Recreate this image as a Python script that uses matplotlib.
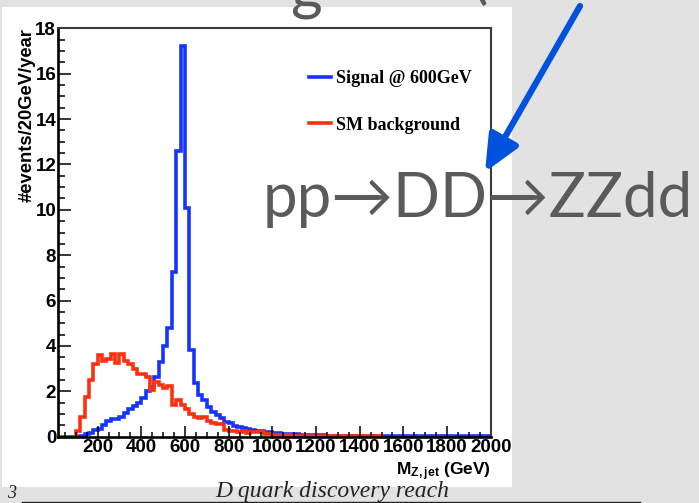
import numpy as np
import matplotlib
matplotlib.use("Agg")
import matplotlib.pyplot as plt
from matplotlib.ticker import MultipleLocator
from matplotlib.lines import Line2D
from matplotlib.patches import Rectangle

plt.rcParams['font.family'] = ['Liberation Sans', 'DejaVu Sans']
plt.rcParams['font.weight'] = 'bold'
plt.rcParams['axes.labelweight'] = 'bold'
plt.rcParams['mathtext.fontset'] = 'custom'
plt.rcParams['mathtext.bf'] = 'Liberation Sans:bold'
plt.rcParams['mathtext.rm'] = 'Liberation Sans:bold'

# 20 GeV bins
bin_width = 20
signal_start = 20
signal = [0, 0, 0, 0, 0,
          0.05, 0.1, 0.18, 0.28, 0.35, 0.5, 0.7, 0.78, 0.8, 0.88,
          1.05, 1.2, 1.35, 1.5, 1.7, 2.0, 2.2, 2.65, 3.3, 4.0,
          4.8, 7.27, 12.6, 17.2, 10.1, 3.82, 2.38, 1.84, 1.6, 1.3,
          1.1, 0.96, 0.81, 0.66, 0.59, 0.47, 0.41, 0.37, 0.32, 0.3,
          0.26, 0.24, 0.21, 0.19, 0.17, 0.15, 0.14, 0.12, 0.11, 0.1,
          0.09, 0.08, 0.08, 0.07, 0.06, 0.06, 0.05, 0.05, 0.05, 0.04,
          0.04, 0.04, 0.04, 0.04, 0.03, 0.03, 0.03, 0.03, 0.03, 0.03,
          0.03, 0.03, 0.02, 0.02, 0.02, 0.02, 0.02, 0.02, 0.02, 0.02,
          0.02, 0.02, 0.02, 0.02, 0.02, 0.02, 0.02, 0.02, 0.02, 0.02,
          0.02, 0.02, 0.02, 0.02]

bg_start = 100
background = [0.25, 0.85, 1.75, 2.5, 3.2, 3.6, 3.35, 3.42, 3.65, 3.25,
              3.65, 3.35, 3.2, 3.0, 2.78, 2.75, 2.65, 2.06, 2.42, 2.28,
              2.15, 2.25, 1.4, 1.6, 1.38, 1.2, 1.0, 0.88, 0.82, 0.88,
              0.7, 0.6, 0.58, 0.56, 0.28, 0.26, 0.25, 0.22, 0.24, 0.18,
              0.2, 0.2, 0.22, 0.12, 0.1, 0.08, 0.07, 0.06, 0.06, 0.05,
              0.04, 0.04, 0.04, 0.04, 0.04, 0.04, 0.04, 0.04, 0.04, 0.04,
              0.04, 0.04, 0.04, 0.04, 0.04, 0.04, 0.04, 0.04, 0.04, 0.04]

sig_label = "Signal @ 600GeV"
bg_label = "SM background"
blue = '#1535ff'
red = '#ff3010'

W, H = 699, 503
fig = plt.figure(figsize=(W / 100, H / 100), dpi=100)
fig.patch.set_facecolor('#e2e2e2')

# white slide panel behind the plot
fig.add_artist(Rectangle((2 / W, 1 - 487 / H), 510 / W, 480 / H,
                         transform=fig.transFigure, fc='white', ec='none', zorder=-5))

ax = fig.add_axes([58.3 / W, 1 - 436.7 / H, 432.4 / W, 408.4 / H])
ax.set_facecolor('none')

sig_edges = signal_start + bin_width * np.arange(len(signal) + 1)
bg_edges = bg_start + bin_width * np.arange(len(background) + 1)
ax.stairs(signal, sig_edges, color=blue, lw=2.6, baseline=0)
ax.stairs(background, bg_edges, color=red, lw=2.6, baseline=0)

ax.set_xlim(20, 2000)
ax.set_ylim(0, 18)
ax.xaxis.set_major_locator(MultipleLocator(200))
ax.xaxis.set_minor_locator(MultipleLocator(50))
ax.yaxis.set_major_locator(MultipleLocator(2))
ax.yaxis.set_minor_locator(MultipleLocator(0.5))
ax.tick_params(which='both', direction='in', width=1.1, labelsize=13.5, colors='black')
ax.tick_params(axis='x', which='major', length=8, pad=2)
ax.tick_params(axis='x', which='minor', length=3.8)
ax.tick_params(axis='y', which='major', length=9.4, pad=1.5)
ax.tick_params(axis='y', which='minor', length=4.8)

for s in ['left', 'bottom']:
    ax.spines[s].set_linewidth(1.9)
    ax.spines[s].set_color('black')
for s in ['top', 'right']:
    ax.spines[s].set_linewidth(1.5)
    ax.spines[s].set_color('#3a3a3a')

ax.set_ylabel('#events/20GeV/year', fontsize=13.2, loc='top', labelpad=0)
ax.set_xlabel(r'$\mathbf{M_{Z,jet}}$ (GeV)', fontsize=12.5, loc='right', labelpad=3)

handles = [Line2D([], [], color=blue, lw=2.6), Line2D([], [], color=red, lw=2.6)]
ax.legend(handles, [sig_label, bg_label], frameon=False, loc='upper left',
          bbox_to_anchor=(0.56, 0.92), borderpad=0, handlelength=1.2,
          handletextpad=0.25, labelspacing=1.65,
          prop={'family': 'Liberation Serif', 'weight': 'bold', 'size': 13})

gray = '#5a5a5a'
fig.text(263 / W, 1 - 217 / H, 'pp\u2192DD\u2192ZZdd', fontsize=44.5, va='baseline', ha='left',
         family=['Lato', 'DejaVu Sans'], weight='normal', color=gray)
fig.text(290 / W, 1 - 8 / H, 'g', fontsize=44, va='baseline', ha='left',
         family=['Lato', 'DejaVu Sans'], weight='normal', color=gray)
fig.text(471 / W, 1 + 3 / H, '(', fontsize=44, va='baseline', ha='left',
         family=['Lato', 'DejaVu Sans'], weight='normal', color=gray)

ax.annotate('', xy=(485, H - 172), xytext=(580, H - 6), xycoords='figure pixels',
            textcoords='figure pixels', annotation_clip=False,
            arrowprops=dict(arrowstyle='-|>,head_width=0.45,head_length=1.0',
                            mutation_scale=22, lw=4.5, color='#0052dc',
                            shrinkA=0, shrinkB=0))

# slide footer
fig.text(7 / W, 1 - 498 / H, '3', fontsize=13, va='baseline', family='Liberation Serif',
         style='italic', weight='normal', color='#222222')
fig.text(215 / W, 1 - 497 / H, 'D quark discovery reach', fontsize=17, va='baseline',
         family='Liberation Serif', style='italic', weight='normal', color='#222222')
fig.add_artist(Line2D([22 / W, 640 / W], [1 - 501.5 / H] * 2, transform=fig.transFigure,
                      color='#222222', lw=1))

fig.savefig('out.png', dpi=100, facecolor=fig.get_facecolor())
